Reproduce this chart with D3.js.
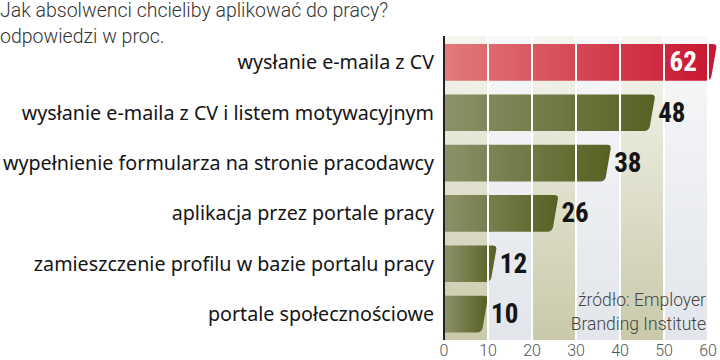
<!DOCTYPE html>
<html><head><meta charset="utf-8">
<script src="https://cdn.jsdelivr.net/npm/d3@7"></script>
<style>body{margin:0;background:#fff}svg{display:block}</style>
</head><body>
<svg id="c" width="720" height="360"></svg>
<script>
const titleLines = ["Jak absolwenci chcieliby aplikować do pracy?", "odpowiedzi w proc."];
const categories = [
  "wysłanie e-maila z CV",
  "wysłanie e-maila z CV i listem motywacyjnym",
  "wypełnienie formularza na stronie pracodawcy",
  "aplikacja przez portale pracy",
  "zamieszczenie profilu w bazie portalu pracy",
  "portale społecznościowe"
];
const values = [62, 48, 38, 26, 12, 10];
const ticks = [0, 10, 20, 30, 40, 50, 60];
const sourceLines = ["źródło: Employer", "Branding Institute"];

const svg = d3.select("#c");
const x = d3.scaleLinear().domain([0, 60]).range([444, 708]);
const y = d3.scaleBand().domain(categories).range([37.5, 339]).paddingInner(0.27).paddingOuter(0.13);
const plotTop = 36, plotBottom = 340;

const defs = svg.append("defs");
const gBeige = defs.append("linearGradient").attr("id","gb").attr("x1",0).attr("x2",0).attr("y1",0).attr("y2",1);
gBeige.append("stop").attr("offset","0%").attr("stop-color","#f6f6f0");
gBeige.append("stop").attr("offset","100%").attr("stop-color","#c9c9aa");
const gGray = defs.append("linearGradient").attr("id","gg").attr("x1",0).attr("x2",0).attr("y1",0).attr("y2",1);
gGray.append("stop").attr("offset","0%").attr("stop-color","#f7f8f9");
gGray.append("stop").attr("offset","100%").attr("stop-color","#e2e5ea");
const gRed = defs.append("linearGradient").attr("id","gr").attr("x1",0).attr("x2",1).attr("y1",0).attr("y2",0);
gRed.append("stop").attr("offset","0%").attr("stop-color","#e27a7c");
gRed.append("stop").attr("offset","100%").attr("stop-color","#c8142f");
const gOl = defs.append("linearGradient").attr("id","go").attr("x1",0).attr("x2",1).attr("y1",0).attr("y2",0);
gOl.append("stop").attr("offset","0%").attr("stop-color","#8d9169");
gOl.append("stop").attr("offset","100%").attr("stop-color","#566122");

// background columns
const cols = d3.range(6);
svg.selectAll("rect.col").data(cols).join("rect")
  .attr("x", i => x(i*10)).attr("width", i => x((i+1)*10) - x(i*10))
  .attr("y", plotTop).attr("height", plotBottom - plotTop)
  .attr("fill", i => i % 2 === 0 ? "url(#gb)" : "url(#gg)");

// bars with slanted rounded end
function barPath(v, yy, h) {
  const x0 = x(0), x1 = x(v), s = 6, r = 4;
  return `M${x0},${yy} L${x1 - r},${yy} Q${x1},${yy} ${x1 - 0.5},${yy + r}` +
         ` L${x1 - s + 0.5},${yy + h - r} Q${x1 - s - 1},${yy + h} ${x1 - s - r - 1},${yy + h} L${x0},${yy + h} Z`;
}
svg.selectAll("path.bar").data(categories).join("path")
  .attr("d", (c, i) => barPath(values[i], y(c), y.bandwidth()))
  .attr("fill", (c, i) => i === 0 ? "url(#gr)" : "url(#go)");

// white gridlines
svg.selectAll("line.grid").data(ticks.slice(1)).join("line")
  .attr("x1", d => x(d)).attr("x2", d => x(d))
  .attr("y1", plotTop).attr("y2", plotBottom)
  .attr("stroke", "#fff").attr("stroke-width", 2);

// axis line
svg.append("line").attr("x1", x(0)).attr("x2", x(0)).attr("y1", plotTop).attr("y2", plotBottom)
  .attr("stroke", "#222").attr("stroke-width", 2);

// tick labels
svg.selectAll("text.tick").data(ticks).join("text")
  .attr("x", d => x(d)).attr("y", 356).attr("text-anchor", "middle")
  .attr("font-family", "Roboto, sans-serif").attr("font-weight", 300)
  .attr("font-size", 16).attr("fill", "#555").text(d => d);

// category labels
svg.selectAll("text.cat").data(categories).join("text")
  .attr("x", 434).attr("y", c => y(c) + y.bandwidth()/2 + 7)
  .attr("text-anchor", "end")
  .attr("font-family", "'Noto Sans', 'Open Sans', sans-serif")
  .attr("font-size", 19.7).attr("fill", "#151515").text(c => c);

// value labels
svg.selectAll("text.val").data(categories).join("text")
  .attr("x", (c, i) => i === 0 ? x(values[i]) - 20 : x(values[i]) + 3)
  .attr("y", c => y(c) + y.bandwidth()/2 + 9)
  .attr("text-anchor", (c, i) => i === 0 ? "end" : "start")
  .attr("font-family", "'Liberation Sans Narrow', 'Roboto Condensed', Roboto, sans-serif")
  .attr("font-weight", "bold").attr("font-size", 27)
  .attr("fill", (c, i) => i === 0 ? "#fff" : "#151515")
  .text((c, i) => values[i]);

// title
svg.selectAll("text.title").data(titleLines).join("text")
  .attr("x", 0).attr("y", (d, i) => 17 + i * 26)
  .attr("font-family", "Roboto, sans-serif").attr("font-weight", 300)
  .attr("font-size", 19.5).attr("fill", "#333").text(d => d);

// source
svg.selectAll("text.src").data(sourceLines).join("text")
  .attr("x", 706).attr("y", (d, i) => 306 + i * 24).attr("text-anchor", "end")
  .attr("font-family", "Roboto, sans-serif").attr("font-weight", 300)
  .attr("font-size", 17.5).attr("fill", "#444").text(d => d);
</script>
</body></html>
